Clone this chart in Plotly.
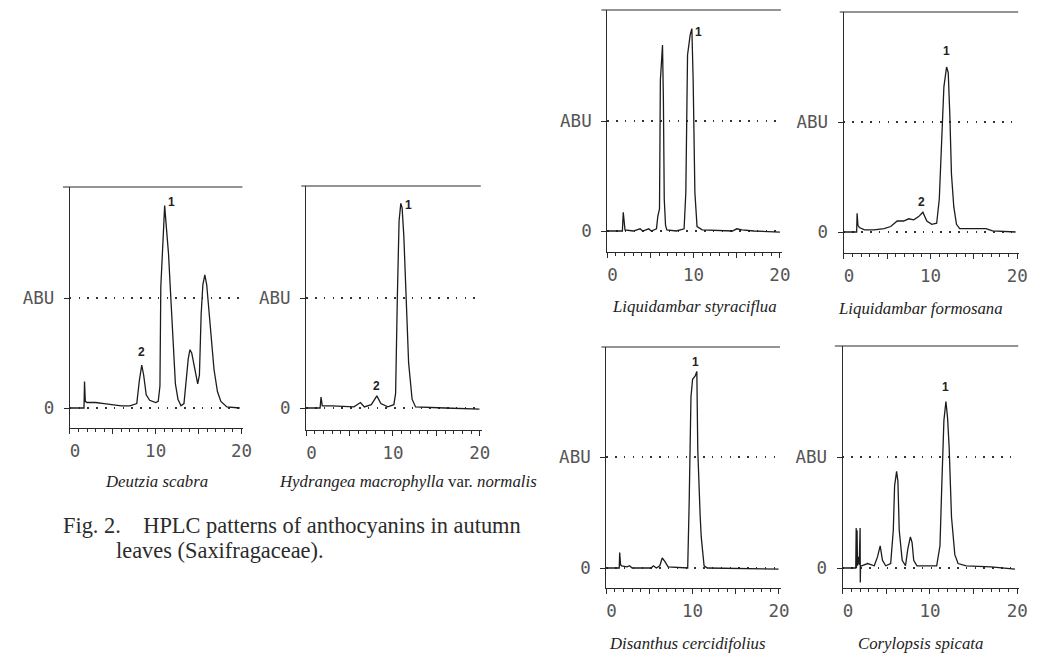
import plotly.graph_objects as go

W, H = 1038, 654

# ---------------- data (retention time in min, abundance in ABU units) ----------------
time_ticks = [0, 5, 10, 15, 20]
time_tick_text = ["\u00a00", "", "10", "", "20"]
abu_ticks = [0, 1]
abu_tick_text = ["0", "ABU"]

captions = [
    "<i>Deutzia scabra</i>",
    "<i>Hydrangea macrophylla</i> var. <i>normalis</i>",
    "<i>Liquidambar styraciflua</i>",
    "<i>Liquidambar formosana</i>",
    "<i>Disanthus cercidifolius</i>",
    "<i>Corylopsis spicata</i>",
]

deutzia_t = [0, 1.65, 1.71, 1.8, 2.0, 3.0, 4.0, 5.0, 6.0, 7.0, 7.8, 8.1, 8.38, 8.6, 8.9, 9.3, 10.0,
             10.3, 10.5, 10.6, 10.9, 11.05, 11.25, 11.5, 11.7, 11.9, 12.1, 12.3, 12.6, 12.95, 13.3,
             13.6, 13.8, 14.0, 14.2, 14.5, 14.9, 15.1, 15.3, 15.5, 15.73, 15.95, 16.2, 16.5, 16.8,
             17.2, 17.6, 18.3, 19.8]
deutzia_y = [0.0, 0.0, 0.24, 0.06, 0.05, 0.05, 0.04, 0.03, 0.02, 0.02, 0.04, 0.25, 0.39, 0.30, 0.12,
             0.07, 0.05, 0.06, 0.20, 1.10, 1.60, 1.84, 1.64, 1.40, 1.10, 0.80, 0.45, 0.22, 0.08, 0.02,
             0.04, 0.30, 0.45, 0.53, 0.50, 0.38, 0.22, 0.30, 0.85, 1.12, 1.21, 1.12, 0.88, 0.60, 0.35,
             0.15, 0.06, 0.01, 0.0]

hydrangea_t = [0, 1.6, 1.71, 1.85, 3.0, 4.5, 5.5, 6.25, 6.7, 7.5, 8.14, 8.6, 9.4, 10.1, 10.3, 10.5,
               10.7, 10.9, 11.05, 11.25, 11.45, 11.63, 11.8, 12.2, 12.6, 16.0, 19.96]
hydrangea_y = [0.0, 0.0, 0.10, 0.02, 0.02, 0.01, 0.01, 0.05, 0.01, 0.03, 0.11, 0.04, 0.01, 0.03, 0.13,
               1.00, 1.70, 1.86, 1.82, 1.56, 1.12, 0.74, 0.41, 0.08, 0.01, 0.0, -0.01]

styraciflua_t = [0, 1.75, 1.85, 1.92, 2.05, 3.0, 3.8, 4.1, 4.8, 5.1, 5.7, 5.85, 6.05, 6.15, 6.4, 6.5,
                 6.6, 6.75, 6.9, 8.0, 8.9, 9.1, 9.3, 9.6, 9.8, 9.95, 10.15, 10.4, 11.0, 14.5, 15.0,
                 15.6, 17.0, 20.0]
styraciflua_y = [0.0, 0.0, 0.17, 0.08, 0.01, 0.0, 0.02, 0.0, 0.02, 0.0, 0.02, 0.13, 0.20, 1.37, 1.69,
                 1.20, 0.29, 0.05, 0.01, 0.0, 0.02, 0.35, 1.60, 1.78, 1.84, 1.37, 0.35, 0.04, 0.01,
                 0.0, 0.02, 0.01, 0.0, -0.01]

formosana_t = [0, 1.5, 1.55, 1.65, 1.82, 2.4, 3.5, 4.66, 5.42, 6.17, 6.9, 7.5, 8.07, 8.64, 9.13, 9.58,
               10.15, 10.72, 11.02, 11.29, 11.55, 11.86, 12.05, 12.24, 12.42, 12.69, 13.0, 13.37,
               14.89, 16.4, 17.16, 19.81]
formosana_y = [0.0, 0.0, 0.17, 0.06, 0.04, 0.02, 0.02, 0.03, 0.05, 0.10, 0.10, 0.12, 0.11, 0.14, 0.18,
               0.10, 0.07, 0.08, 0.30, 0.90, 1.32, 1.50, 1.45, 1.05, 0.53, 0.23, 0.07, 0.03, 0.03,
               0.03, 0.01, 0.0]

disanthus_t = [0, 1.5, 1.55, 1.65, 1.78, 2.4, 2.69, 3.0, 5.2, 5.45, 5.8, 6.2, 6.48, 6.78, 7.16, 9.43,
               9.6, 9.81, 10.0, 10.3, 10.49, 10.6, 10.87, 11.0, 11.33, 11.7, 19.96]
disanthus_y = [0.0, 0.0, 0.14, 0.03, 0.02, 0.01, 0.02, 0.0, 0.0, 0.02, 0.0, 0.02, 0.09, 0.06, 0.01,
               0.0, 0.58, 1.54, 1.70, 1.73, 1.77, 1.06, 0.48, 0.28, 0.02, 0.0, -0.01]

corylopsis_t = [0, 1.5, 1.55, 1.58, 1.65, 1.7, 1.8, 1.9, 2.0, 2.02, 2.05, 2.18, 2.86, 3.62, 3.99, 4.3,
                4.56, 4.93, 5.5, 5.8, 5.95, 6.18, 6.33, 6.48, 6.82, 7.2, 7.46, 7.76, 7.95, 8.14, 8.51,
                10.77, 11.15, 11.34, 11.6, 11.83, 12.02, 12.2, 12.47, 12.85, 13.22, 14.16, 17.0, 19.74]
corylopsis_y = [0.0, 0.0, 0.36, 0.0, 0.34, 0.02, 0.10, 0.03, 0.36, -0.13, 0.02, 0.02, 0.04, 0.02, 0.10,
                0.20, 0.07, 0.02, 0.04, 0.34, 0.74, 0.87, 0.78, 0.34, 0.07, 0.02, 0.17, 0.28, 0.23,
                0.07, 0.02, 0.02, 0.20, 0.70, 1.33, 1.50, 1.35, 1.09, 0.46, 0.12, 0.04, 0.02, 0.01,
                -0.01]

# peak labels: (text, time, abundance)
deutzia_peaks = [("1", 11.8, 1.87), ("2", 8.34, 0.51)]
hydrangea_peaks = [("1", 11.75, 1.85), ("2", 8.14, 0.20)]
styraciflua_peaks = [("1", 10.57, 1.81)]
formosana_peaks = [("1", 11.8, 1.65), ("2", 8.98, 0.27)]
disanthus_peaks = [("1", 10.34, 1.86)]
corylopsis_peaks = [("1", 11.8, 1.63)]

series = [
    (deutzia_t, deutzia_y, deutzia_peaks),
    (hydrangea_t, hydrangea_y, hydrangea_peaks),
    (styraciflua_t, styraciflua_y, styraciflua_peaks),
    (formosana_t, formosana_y, formosana_peaks),
    (disanthus_t, disanthus_y, disanthus_peaks),
    (corylopsis_t, corylopsis_y, corylopsis_peaks),
]

# ---------------- layout geometry (pixels) ----------------
geom = [
    dict(x0=60, x20=235, y0=408, y1=298, ytop=187, ybot=428, left=53, cap=(148, 482)),
    dict(x0=301, x20=478, y0=408, y1=298, ytop=186, ybot=430, left=296, cap=(405, 482)),
    dict(x0=608, x20=784, y0=231, y1=121, ytop=10, ybot=252, left=602, cap=(697, 306)),
    dict(x0=849, x20=1026, y0=232, y1=122, ytop=12, ybot=253, left=845, cap=(927, 308)),
    dict(x0=607, x20=783, y0=568, y1=457, ytop=347, ybot=588, left=602, cap=(690, 643)),
    dict(x0=848, x20=1026, y0=568, y1=457, ytop=346, ybot=588, left=840, cap=(927, 643)),
]

INK = "#2a2a2a"
TICKFONT = dict(family="DejaVu Sans Mono", size=17.5, color="#555555")

fig = go.Figure()
shapes = []
annotations = []
layout = {}

for i, ((t, y, peaks), g, cap) in enumerate(zip(series, geom, captions), start=1):
    sx = "" if i == 1 else str(i)
    xref, yref = "x" + sx, "y" + sx
    ppu = (g["x20"] - g["x0"]) / 20.0
    ppa = g["y0"] - g["y1"]
    xmax = 20.2
    xd = [g["x0"] / W, (g["x0"] + xmax * ppu) / W]
    yd = [1 - g["ybot"] / H, 1 - g["ytop"] / H]
    yr = [-(g["ybot"] - g["y0"]) / ppa, (g["y0"] - g["ytop"]) / ppa]

    fig.add_trace(go.Scatter(x=t, y=y, mode="lines", xaxis=xref, yaxis=yref,
                             line=dict(color="#1c1c1c", width=1.3), showlegend=False,
                             hoverinfo="skip"))

    layout["xaxis" + sx] = dict(
        domain=xd, range=[0, xmax], anchor=yref, showline=True, linecolor=INK, linewidth=1.2,
        ticks="outside", ticklen=5, tickwidth=1, tickcolor=INK,
        tickmode="array", tickvals=time_ticks, ticktext=time_tick_text, tickfont=TICKFONT,
        ticklabelstandoff=2,
        minor=dict(dtick=1, tick0=0, ticks="outside", ticklen=3, tickcolor=INK, showgrid=False),
        showgrid=False, zeroline=False, fixedrange=True)
    layout["yaxis" + sx] = dict(
        domain=yd, range=yr, anchor=xref, showline=True, linecolor=INK, linewidth=1.2,
        ticks="outside", ticklen=5, tickwidth=1, tickcolor=INK,
        tickmode="array", tickvals=abu_ticks, ticktext=abu_tick_text, tickfont=TICKFONT,
        ticklabelstandoff=6,
        showgrid=True, gridcolor="#333333", gridwidth=1.5, griddash="1.5px,7.3px",
        zeroline=False, fixedrange=True)

    shapes.append(dict(type="line", xref="paper", yref="paper",
                       x0=g["left"] / W, x1=(g["x20"] + 1) / W,
                       y0=1 - g["ytop"] / H, y1=1 - g["ytop"] / H,
                       line=dict(color=INK, width=1.2)))

    for txt, pt, py in peaks:
        annotations.append(dict(x=pt, y=py, xref=xref, yref=yref, text="<b>" + txt + "</b>",
                                showarrow=False, xanchor="center", yanchor="middle",
                                font=dict(family="Liberation Sans", size=12, color="#222222")))

    annotations.append(dict(x=g["cap"][0] / W, y=1 - g["cap"][1] / H, xref="paper",
                            yref="paper", text=cap, showarrow=False,
                            xanchor="center", yanchor="middle",
                            font=dict(family="Liberation Serif", size=16.8, color="#222222")))

annotations.append(dict(x=51 / W, y=1 - 525 / H, xref="paper", yref="paper",
                        xanchor="left", yanchor="middle",
                        text="Fig. 2.\u00a0\u00a0\u00a0 HPLC patterns of anthocyanins in autumn",
                        showarrow=False,
                        font=dict(family="Liberation Serif", size=22.4, color="#2b2b2b")))
annotations.append(dict(x=105 / W, y=1 - 550 / H, xref="paper", yref="paper",
                        xanchor="left", yanchor="middle",
                        text="leaves (Saxifragaceae).", showarrow=False,
                        font=dict(family="Liberation Serif", size=22.4, color="#2b2b2b")))

fig.update_layout(width=W, height=H, margin=dict(l=0, r=0, t=0, b=0),
                  paper_bgcolor="white", plot_bgcolor="white",
                  shapes=shapes, annotations=annotations, showlegend=False, **layout)

fig.write_html("out.html",
               post_script="document.body.style.margin='0';document.body.style.padding='0';")
